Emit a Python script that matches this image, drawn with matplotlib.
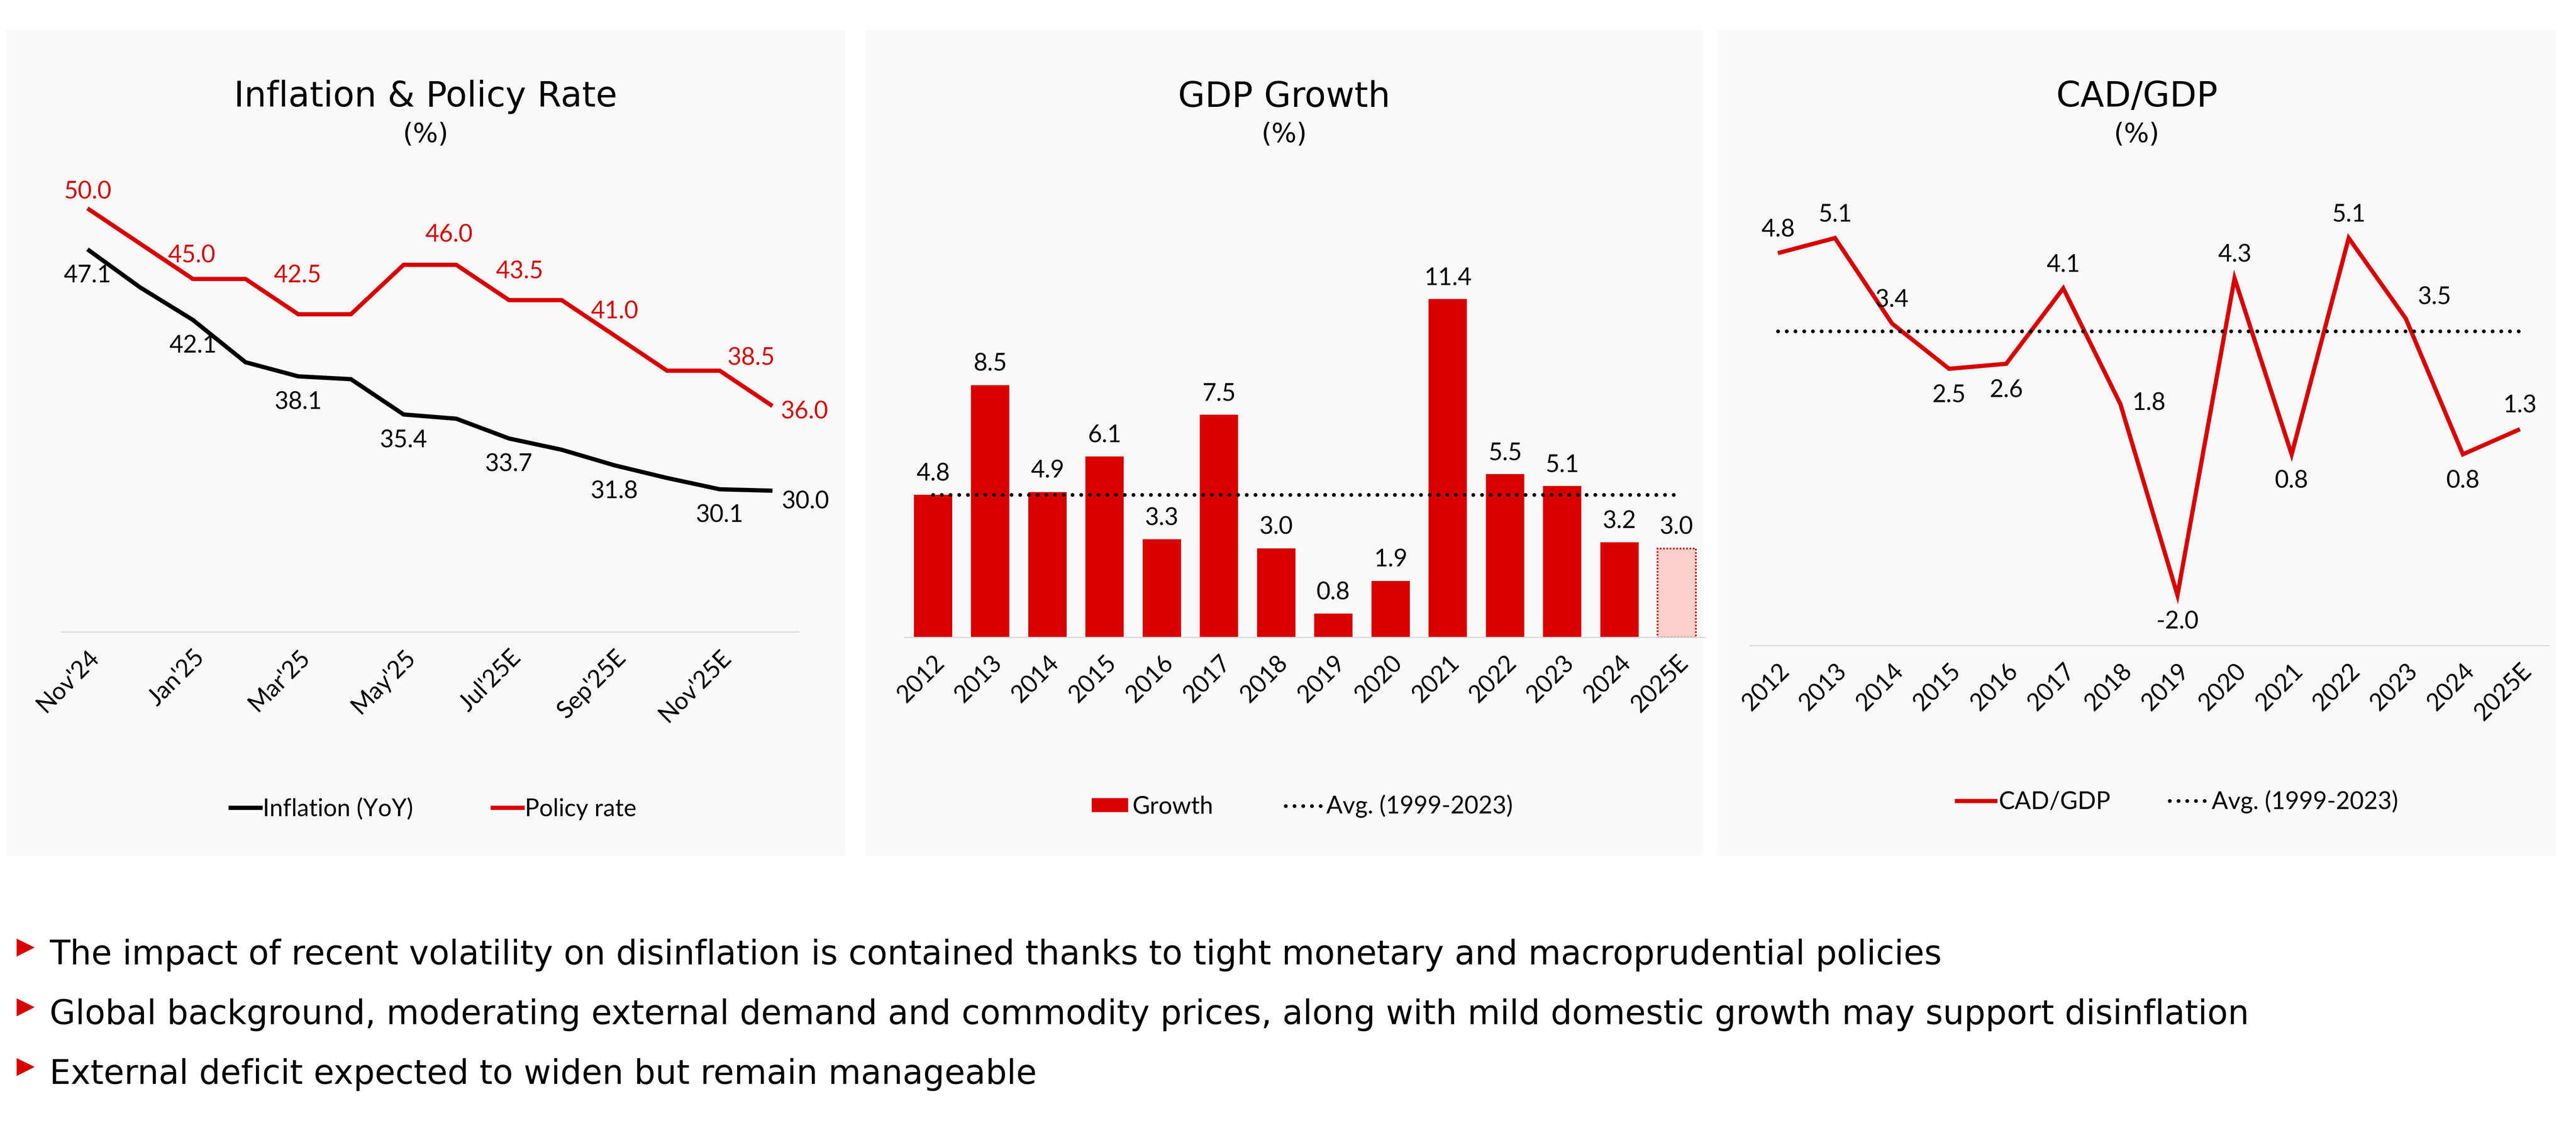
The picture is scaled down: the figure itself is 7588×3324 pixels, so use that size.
import matplotlib
matplotlib.use("Agg")
import matplotlib.pyplot as plt
from matplotlib.patches import Rectangle, Polygon
from matplotlib.lines import Line2D

plt.rcParams['font.family'] = ['Lato', 'DejaVu Sans']

# --- data ---
months = ["Nov'24", "Dec'24", "Jan'25", "Feb'25", "Mar'25", "Apr'25", "May'25",
          "Jun'25", "Jul'25E", "Aug'25E", "Sep'25E", "Oct'25E", "Nov'25E", "Dec'25E"]
month_ticks = ["Nov'24", "", "Jan'25", "", "Mar'25", "", "May'25",
               "", "Jul'25E", "", "Sep'25E", "", "Nov'25E", ""]
inflation = [47.1, 44.4, 42.1, 39.1, 38.1, 37.9, 35.4, 35.1, 33.7, 32.9, 31.8, 30.9, 30.1, 30.0]
policy = [50.0, 47.5, 45.0, 45.0, 42.5, 42.5, 46.0, 46.0, 43.5, 43.5, 41.0, 38.5, 38.5, 36.0]
infl_lab_idx = [0, 2, 4, 6, 8, 10, 12, 13]
pol_lab_idx = [0, 2, 4, 7, 8, 10, 12, 13]

years = ['2012', '2013', '2014', '2015', '2016', '2017', '2018', '2019',
         '2020', '2021', '2022', '2023', '2024', '2025E']
gdp = [4.8, 8.5, 4.9, 6.1, 3.3, 7.5, 3.0, 0.8, 1.9, 11.4, 5.5, 5.1, 3.2, 3.0]
gdp_avg = 4.8
cad = [4.8, 5.1, 3.4, 2.5, 2.6, 4.1, 1.8, -2.0, 4.3, 0.8, 5.1, 3.5, 0.8, 1.3]
cad_avg = 3.25

bullets = [
    "The impact of recent volatility on disinflation is contained thanks to tight monetary and macroprudential policies",
    "Global background, moderating external demand and commodity prices, along with mild domestic growth may support disinflation",
    "External deficit expected to widen but remain manageable",
]

# --- style ---
RED = '#D90000'
DARKRED = '#C00000'
PINK = '#FCCFCA'
PANEL = '#F9F9F9'
GRID = '#D9D9D9'
W, H = 7588, 3324
DPI = 100
FS = 51
LW = 9
WIDE = ['DejaVu Sans']
DOTS = (0, (0.01, 2.3))

# label placement offsets (points)
pol_offsets = [(0, 35), (-3, 50), (-2, 82), (-16, 64), (22, 61), (0, 51), (67, 27), (68, -12)]
infl_offsets = [(0, -55)] * 7 + [(70, -23)]
cad_place = ['a', 'a', 'a', 'b', 'b', 'a', 'r', 'b', 'a', 'b', 'a', 'ar', 'b', 'a']
place_off = {'a': (0, 50), 'b': (0, -56), 'r': (60, 2), 'ar': (61, 45)}

fig = plt.figure(figsize=(W / DPI, H / DPI), dpi=DPI)


def px_axes(x0, x1, ytop, ybot):
    return fig.add_axes([x0 / W, 1 - ybot / H, (x1 - x0) / W, (ybot - ytop) / H])


def fx(x):
    return x / W


def fy(y):
    return 1 - y / H


# panel backgrounds
for x0, x1 in [(20, 2489), (2550, 5016), (5060, 7529)]:
    fig.add_artist(Rectangle((fx(x0), fy(2522)), (x1 - x0) / W, (2522 - 88) / H,
                             transform=fig.transFigure, facecolor=PANEL,
                             edgecolor='none', zorder=-5))


def style_axes(ax, labels):
    ax.set_facecolor('none')
    for s in ['top', 'right', 'left']:
        ax.spines[s].set_visible(False)
    ax.spines['bottom'].set_color(GRID)
    ax.spines['bottom'].set_linewidth(2.5)
    ax.set_yticks([])
    ax.set_xticks(range(len(labels)))
    ax.set_xticklabels(labels, rotation=45, ha='right', rotation_mode='anchor', fontsize=FS)
    ax.tick_params(axis='x', length=0, pad=30)
    ax.set_xlim(-0.5, len(labels) - 0.5)


# panel 1: inflation & policy rate
ax1 = px_axes(180, 2353, 406, 1862)
x = list(range(len(months)))
ax1.plot(x, inflation, color='black', lw=LW, solid_joinstyle='miter', solid_capstyle='butt')
ax1.plot(x, policy, color=RED, lw=LW, solid_joinstyle='miter', solid_capstyle='butt')
ax1.set_ylim(20, 55)
style_axes(ax1, month_ticks)
for i, off in zip(infl_lab_idx, infl_offsets):
    ax1.annotate(f'{inflation[i]:.1f}', (i, inflation[i]), xytext=off, textcoords='offset points',
                 ha='center', va='center', fontsize=FS, color='black')
for i, off in zip(pol_lab_idx, pol_offsets):
    ax1.annotate(f'{policy[i]:.1f}', (i, policy[i]), xytext=off, textcoords='offset points',
                 ha='center', va='center', fontsize=FS, color=RED)

# panel 2: GDP growth
ax2 = px_axes(2664, 5023, 654, 1878)
xg = list(range(len(years)))
ax2.bar(xg[:-1], gdp[:-1], width=0.67, color=RED, zorder=2)
ax2.bar(xg[-1], gdp[-1], width=0.67, facecolor=PINK, edgecolor=DARKRED,
        linestyle=(0, (1, 1)), linewidth=3.5, zorder=2)
ax2.plot([xg[0], xg[-1]], [gdp_avg, gdp_avg], color='black', lw=8, linestyle=DOTS,
         dash_capstyle='round', zorder=3)
ax2.set_ylim(0, 14)
style_axes(ax2, years)
for i, v in enumerate(gdp):
    ax2.annotate(f'{v:.1f}', (i, v), xytext=(0, 45), textcoords='offset points',
                 ha='center', va='center', fontsize=FS)

# panel 3: CAD/GDP
ax3 = px_axes(5153, 7507, 494, 1902)
ax3.plot(xg, cad, color=RED, lw=LW, solid_joinstyle='miter', solid_capstyle='butt', zorder=2)
ax3.plot([xg[0], xg[-1]], [cad_avg, cad_avg], color='black', lw=8, linestyle=DOTS,
         dash_capstyle='round', zorder=3)
ax3.set_ylim(-3, 6.5)
style_axes(ax3, years)
for i, (v, p) in enumerate(zip(cad, cad_place)):
    ax3.annotate(f'{v:.1f}', (i, v), xytext=place_off[p], textcoords='offset points',
                 ha='center', va='center', fontsize=FS)

# titles
for cx, title in [(1254, 'Inflation & Policy Rate'), (3783, 'GDP Growth'), (6294, 'CAD/GDP')]:
    fig.text(fx(cx), fy(286), title, ha='center', va='center', fontsize=74, family=WIDE)
    fig.text(fx(cx), fy(397), '(%)', ha='center', va='center', fontsize=56, family=WIDE)

# legends
dot_handle = Line2D([], [], color='black', lw=8, linestyle=DOTS, dash_capstyle='round')
fig.legend([Line2D([], [], color='black', lw=LW), Line2D([], [], color=RED, lw=LW)],
           ['Inflation (YoY)', 'Policy rate'], loc='center',
           bbox_to_anchor=(fx(1277), fy(2384)), ncol=2, frameon=False, fontsize=FS,
           handlelength=1.25, handletextpad=0.1, columnspacing=3.3)
fig.legend([Rectangle((0, 0), 1, 1, color=RED), dot_handle],
           ['Growth', 'Avg. (1999-2023)'], loc='center',
           bbox_to_anchor=(fx(3836), fy(2376)), ncol=2, frameon=False, fontsize=FS,
           handlelength=1.5, handleheight=0.5, handletextpad=0.2, columnspacing=3.0)
fig.legend([Line2D([], [], color=RED, lw=LW), dot_handle],
           ['CAD/GDP', 'Avg. (1999-2023)'], loc='center',
           bbox_to_anchor=(fx(6414), fy(2363)), ncol=2, frameon=False, fontsize=FS,
           handlelength=1.6, handletextpad=0.15, columnspacing=2.45)

# bullets
for k, text in enumerate(bullets):
    base = 2842 + k * 176
    tri = [(fx(49), fy(base - 76)), (fx(102), fy(base - 50)), (fx(49), fy(base - 23))]
    fig.add_artist(Polygon(tri, closed=True, transform=fig.transFigure,
                           facecolor=RED, edgecolor='none'))
    fig.text(fx(146), fy(base), text, ha='left', va='baseline', fontsize=71, family=WIDE)

fig.savefig('out.png', dpi=DPI)
